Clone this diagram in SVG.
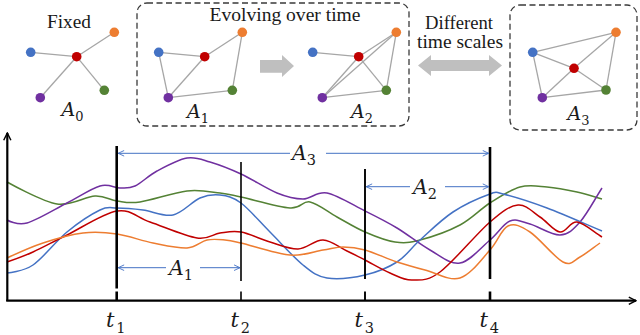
<svg xmlns="http://www.w3.org/2000/svg" width="640" height="335" viewBox="0 0 640 335">
<defs>
<style>
.lbl{font-family:"Liberation Serif","Times New Roman",serif;font-size:18px;fill:#1a1a1a}
.math{font-family:"DejaVu Serif","Liberation Serif",serif;font-style:italic;fill:#1a1a1a}
.sub{font-style:normal}
.edge{stroke:#a6a6a6;stroke-width:1.3;fill:none}
.box{fill:none;stroke:#3a3a3a;stroke-width:1.3;stroke-dasharray:6 3.5}
.curve{fill:none;stroke-width:1.5}
.vl{stroke:#000;fill:none}
.span{stroke:#4472c4;stroke-width:1;fill:none}
.nb{fill:#4472c4}.nr{fill:#c00000}.no{fill:#ed7d31}.ng{fill:#548235}.np{fill:#7030a0}
</style>
<marker id="ah" viewBox="0 0 10 10" refX="9.5" refY="5" markerWidth="7" markerHeight="7" markerUnits="userSpaceOnUse" orient="auto-start-reverse">
<path d="M1,1 L9.5,5 L1,9" fill="none" stroke="#4472c4" stroke-width="1.3"/>
</marker>
<marker id="axh" viewBox="0 0 10 10" refX="9" refY="5" markerWidth="9" markerHeight="9" markerUnits="userSpaceOnUse" orient="auto">
<path d="M1,1 L9,5 L1,9" fill="none" stroke="#000" stroke-width="1.6"/>
</marker>
</defs>
<rect width="640" height="335" fill="#fff"/>

<!-- top panels -->
<text class="lbl" x="47" y="28" textLength="44" lengthAdjust="spacingAndGlyphs">Fixed</text>
<rect class="box" x="137" y="3" width="272" height="123" rx="10"/>
<text class="lbl" x="209.5" y="21" textLength="151" lengthAdjust="spacingAndGlyphs">Evolving over time</text>
<text class="lbl" x="425" y="28.5" font-size="17.5" textLength="68" lengthAdjust="spacingAndGlyphs">Different</text>
<text class="lbl" x="417" y="48" font-size="17.5" textLength="86" lengthAdjust="spacingAndGlyphs">time scales</text>
<rect class="box" x="510" y="5" width="127" height="125" rx="10"/>

<g id="arrow-evolve"><path d="M260,60 H282 V55 L294,66 L282,77 V72.7 H260 Z" fill="#bfbfbf"/></g>
<g id="arrow-scales"><path d="M418,65.5 L431,55 V60 H489 V55 L502,65.5 L489,76 V71 H431 V76 Z" fill="#bfbfbf"/></g>

<g id="graph-A0">
<g id="A0-edges">
<line class="edge" x1="30.7" y1="52.3" x2="76.7" y2="56.7"/>
<line class="edge" x1="76.7" y1="56.7" x2="114.3" y2="32.3"/>
<line class="edge" x1="76.7" y1="56.7" x2="104.3" y2="90.3"/>
<line class="edge" x1="76.7" y1="56.7" x2="40.3" y2="97.7"/>
</g>
<g id="A0-nodes">
<circle class="nb" cx="30.7" cy="52.3" r="4.8"/><circle class="nr" cx="76.7" cy="56.7" r="4.8"/><circle class="no" cx="114.3" cy="32.3" r="4.8"/><circle class="ng" cx="104.3" cy="90.3" r="4.8"/><circle class="np" cx="40.3" cy="97.7" r="4.8"/>
</g>
<text class="math" x="61.5" y="116" font-size="19">A<tspan class="sub" font-size="13" dy="5">0</tspan></text>
</g>

<g id="graph-A1">
<g id="A1-edges">
<line class="edge" x1="158.7" y1="52.3" x2="204.7" y2="56.7"/>
<line class="edge" x1="158.7" y1="52.3" x2="168.3" y2="97.7"/>
<line class="edge" x1="204.7" y1="56.7" x2="168.3" y2="97.7"/>
<line class="edge" x1="204.7" y1="56.7" x2="242.3" y2="32.3"/>
<line class="edge" x1="242.3" y1="32.3" x2="232.3" y2="90.3"/>
<line class="edge" x1="232.3" y1="90.3" x2="168.3" y2="97.7"/>
</g>
<g id="A1-nodes">
<circle class="nb" cx="158.7" cy="52.3" r="4.8"/><circle class="nr" cx="204.7" cy="56.7" r="4.8"/><circle class="no" cx="242.3" cy="32.3" r="4.8"/><circle class="ng" cx="232.3" cy="90.3" r="4.8"/><circle class="np" cx="168.3" cy="97.7" r="4.8"/>
</g>
<text class="math" x="187" y="118" font-size="19">A<tspan class="sub" font-size="13" dy="5">1</tspan></text>
</g>

<g id="graph-A2">
<g id="A2-edges">
<line class="edge" x1="312.7" y1="52.3" x2="358.7" y2="56.7"/>
<line class="edge" x1="358.7" y1="56.7" x2="396.3" y2="32.3"/>
<line class="edge" x1="358.7" y1="56.7" x2="386.3" y2="90.3"/>
<line class="edge" x1="358.7" y1="56.7" x2="322.3" y2="97.7"/>
<line class="edge" x1="322.3" y1="97.7" x2="396.3" y2="32.3"/>
<line class="edge" x1="322.3" y1="97.7" x2="386.3" y2="90.3"/>
<line class="edge" x1="396.3" y1="32.3" x2="386.3" y2="90.3"/>
</g>
<g id="A2-nodes">
<circle class="nb" cx="312.7" cy="52.3" r="4.8"/><circle class="nr" cx="358.7" cy="56.7" r="4.8"/><circle class="no" cx="396.3" cy="32.3" r="4.8"/><circle class="ng" cx="386.3" cy="90.3" r="4.8"/><circle class="np" cx="322.3" cy="97.7" r="4.8"/>
</g>
<text class="math" x="351" y="118" font-size="19">A<tspan class="sub" font-size="13" dy="5">2</tspan></text>
</g>

<g id="graph-A3">
<g id="A3-edges">
<line class="edge" x1="532.7" y1="52.3" x2="616" y2="32.3"/>
<line class="edge" x1="616" y1="32.3" x2="606" y2="90"/>
<line class="edge" x1="606" y1="90" x2="542.3" y2="97.7"/>
<line class="edge" x1="542.3" y1="97.7" x2="532.7" y2="52.3"/>
<line class="edge" x1="532.7" y1="52.3" x2="574" y2="68.3"/>
<line class="edge" x1="574" y1="68.3" x2="606" y2="90"/>
<line class="edge" x1="542.3" y1="97.7" x2="574" y2="68.3"/>
<line class="edge" x1="574" y1="68.3" x2="616" y2="32.3"/>
</g>
<g id="A3-nodes">
<circle class="nb" cx="532.7" cy="52.3" r="4.8"/><circle class="nr" cx="574" cy="68.3" r="4.8"/><circle class="no" cx="616" cy="32.3" r="4.8"/><circle class="ng" cx="606" cy="90" r="4.8"/><circle class="np" cx="542.3" cy="97.7" r="4.8"/>
</g>
<text class="math" x="567.5" y="119.5" font-size="19">A<tspan class="sub" font-size="13" dy="5">3</tspan></text>
</g>

<!-- chart -->
<g id="curves">
<path class="curve" stroke="#548235" d="M7,182 S42.3,201.7 57,204 S85,196.5 95,196 S109.5,200 117,201 S128.3,203.7 140,202 S173.7,192.5 187,191 S211,192 220,193 S229.3,194.5 241,197 S278.5,207.2 290,208 S302.2,200.5 310,202 S327.8,212 337,217 S355.3,227.8 365,232 S385.8,240.7 395,242 S409.2,242.8 420,240 S448.3,231.2 460,225 S480,209.3 490,203 S510.5,189.7 520,187 S537.5,186.2 547,187 S567.8,190 577,192 S593.7,196.7 602,199"/>
<path class="curve" stroke="#7030a0" d="M7,220 S17,225.8 27,223 S54.8,209.2 67,203 S91.2,188.5 100,186 S114.2,188 120,188 S128.8,188.8 135,186 S148.3,175.7 157,171 S178.2,159.5 187,158 S201,159.3 210,162 S229.8,168.8 241,174 S266.7,188.8 277,193 S294.7,199 303,199 S316.7,191 327,193 S353.3,205.2 365,211 S386.2,221.5 397,228 S419.5,244.2 430,250 S450,264.7 460,263 S481.7,247 490,240 S503.3,223.7 510,221 S521.7,221.7 530,224 S551.7,235.3 560,235 S573,229.8 580,222 S594.7,199.3 602,188"/>
<path class="curve" stroke="#4472c4" d="M7,273 S23,271.8 33,265 S55.8,241.2 67,232 S91.7,214 100,210 S109.8,208 117,208 S133.7,208.8 143,210 S163.5,217 173,215 S192.2,201.3 200,198 S213.2,194.2 220,195 S232.7,196.8 241,203 S259.7,221.7 270,232 S293.5,257.3 303,265 S316.7,276.3 327,278 S353.3,277.7 365,275 S387.8,267.8 397,262 S410.7,248.3 420,240 S441.3,219.7 453,212 S481.7,197 490,194 S493.5,191.7 503,194 S530.5,201.8 547,208 S583.7,223.3 602,231"/>
<path class="curve" stroke="#c00000" d="M7,262 S23,256.5 33,252 S53,241.8 67,235 S103.2,213.2 117,211 S136.7,217.5 150,222 S185.3,236.2 197,238 S212.7,234 220,233 S232.7,230.5 241,232 S260.5,239.2 270,242 S289.2,249.3 298,249 S314.8,239.7 323,240 S340,247.7 347,251 S357.8,256.3 365,260 S382.2,269.7 390,273 S403.7,280.2 412,280 S427,281.7 440,272 S477,233.2 490,222 S509.7,205.8 518,205 S533,212.5 540,217 S553.8,231.2 560,232 S570,221.2 577,222 S593.7,232 602,237"/>
<path class="curve" stroke="#ed7d31" d="M7,258 S30.3,247.2 43,243 S70.7,234.5 83,233 S105.3,232.3 117,234 S141.3,240.7 153,243 S178,248.5 187,248 S200.7,241.3 207,240 S219.3,239.5 225,240 S230.2,240.5 241,243 S276.3,253.8 290,255 S314.2,251.3 323,250 S336,247 343,247 S356,247.5 365,250 S387,258.7 397,262 S414.5,267.3 425,270 S449.2,281.3 460,278 S482,258.7 490,250 S501.3,229 508,226 S520.8,226 530,232 S554.7,257.8 563,262 S573.8,260.2 580,257 S593.3,247.7 600,243"/>
</g>

<g id="axes">
<path class="vl" stroke-width="2.2" d="M7.3,301 V133" marker-end="url(#axh)"/>
<path class="vl" stroke-width="2.2" d="M6.2,300.7 H636" marker-end="url(#axh)"/>
</g>

<g id="time-lines">
<line class="vl" stroke-width="2.6" x1="116.7" y1="146" x2="116.7" y2="288.5"/>
<line class="vl" stroke-width="2.6" x1="116.7" y1="291.5" x2="116.7" y2="300"/>
<line class="vl" stroke-width="1.6" x1="241" y1="162" x2="241" y2="281"/>
<line class="vl" stroke-width="1.6" x1="241" y1="291.5" x2="241" y2="300"/>
<line class="vl" stroke-width="1.9" x1="365" y1="169" x2="365" y2="279"/>
<line class="vl" stroke-width="1.9" x1="365" y1="291.5" x2="365" y2="300"/>
<line class="vl" stroke-width="2.6" x1="490" y1="147" x2="490" y2="279"/>
<line class="vl" stroke-width="2.6" x1="490" y1="291.5" x2="490" y2="300"/>
</g>

<g id="spans">
<path class="span" d="M290,153.3 H118.2" marker-end="url(#ah)"/>
<path class="span" d="M326,153.3 H488.7" marker-end="url(#ah)"/>
<text class="math" x="292" y="160" font-size="20.5">A<tspan class="sub" font-size="14.5" dy="5">3</tspan></text>
<path class="span" d="M410,186.7 H366.2" marker-end="url(#ah)"/>
<path class="span" d="M445,186.7 H488.7" marker-end="url(#ah)"/>
<text class="math" x="413" y="194" font-size="20.5">A<tspan class="sub" font-size="14.5" dy="5">2</tspan></text>
<path class="span" d="M166,267.7 H118.2" marker-end="url(#ah)"/>
<path class="span" d="M200,267.7 H240" marker-end="url(#ah)"/>
<text class="math" x="169" y="275" font-size="20.5">A<tspan class="sub" font-size="14.5" dy="5">1</tspan></text>
</g>

<g id="time-labels">
<text class="math" x="106" y="327" font-size="21">t</text><text class="math sub" x="116.2" y="333" font-size="14.5">1</text>
<text class="math" x="230.5" y="327" font-size="21">t</text><text class="math sub" x="240.8" y="333" font-size="14.5">2</text>
<text class="math" x="354.5" y="327" font-size="21">t</text><text class="math sub" x="364.8" y="333" font-size="14.5">3</text>
<text class="math" x="479.5" y="327" font-size="21">t</text><text class="math sub" x="489.8" y="333" font-size="14.5">4</text>
</g>
</svg>
